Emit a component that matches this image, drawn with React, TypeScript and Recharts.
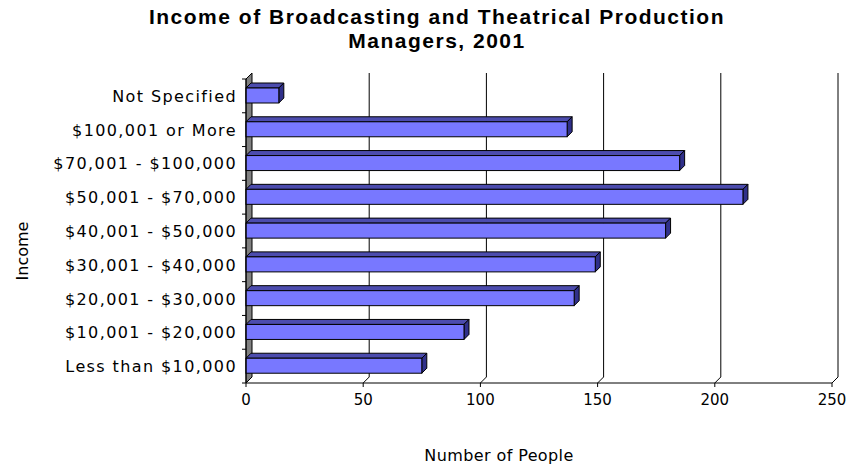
import { BarChart, Bar, XAxis, YAxis, CartesianGrid } from "recharts";

const incomeBrackets = [
  "Not Specified",
  "$100,001 or More",
  "$70,001 - $100,000",
  "$50,001 - $70,000",
  "$40,001 - $50,000",
  "$30,001 - $40,000",
  "$20,001 - $30,000",
  "$10,001 - $20,000",
  "Less than $10,000",
];
const people = [14, 137, 185, 212, 179, 149, 140, 93, 75];
const xTicks = [0, 50, 100, 150, 200, 250];

const data = incomeBrackets.map((name, i) => ({ name, people: people[i] }));

const W = 846;
const H = 466;
const PLOT_TOP = 79;
const PLOT_BOTTOM = 383;
const PLOT_LEFT = 246;
const PLOT_RIGHT = 832;
const BAND = (PLOT_BOTTOM - PLOT_TOP) / incomeBrackets.length;
const DEPTH = 6;
const FONT = "'DejaVu Sans', sans-serif";
const TITLE_FONT = "'Liberation Sans', Arial, sans-serif";

// 3D bar: front face, top face, right side
const Bar3D = (props: any) => {
  const { x, y, width, height } = props;
  const d = 5;
  return (
    <g stroke="#000" strokeWidth={1}>
      <polygon points={`${x},${y} ${x + d},${y - d} ${x + width + d},${y - d} ${x + width},${y}`} fill="#4c4cae" />
      <polygon
        points={`${x + width},${y} ${x + width + d},${y - d} ${x + width + d},${y + height - d} ${x + width},${y + height}`}
        fill="#30308a"
      />
      <rect x={x} y={y} width={width} height={height} fill="#7878ff" />
    </g>
  );
};

// back-wall gridlines with a floor segment; the first one becomes the grey side wall
const GridLine3D = (props: any) => {
  const { x1, y1, y2, index } = props;
  const d = DEPTH;
  if (index === 0) {
    return (
      <polygon
        key={`wall`}
        points={`${x1},${y1} ${x1 + d},${y1 - d} ${x1 + d},${y2 - d} ${x1},${y2}`}
        fill="#808080"
        stroke="#000"
        strokeWidth={1}
      />
    );
  }
  return (
    <polyline
      key={`grid-${index}`}
      points={`${x1},${y2} ${x1 + d},${y2 - d} ${x1 + d},${y1 - d}`}
      fill="none"
      stroke="#000"
      strokeWidth={1}
    />
  );
};

const CategoryTick = (props: any) => {
  const { x, y, payload, index } = props;
  const half = BAND / 2;
  return (
    <g>
      <text x={x - 9} y={y} dy={6} textAnchor="end" fontFamily={FONT} fontSize={16} letterSpacing={1.4} fill="#000">
        {payload.value}
      </text>
      <line x1={x - 4} x2={x} y1={y - half} y2={y - half} stroke="#000" />
      {index === incomeBrackets.length - 1 && <line x1={x - 4} x2={x} y1={y + half} y2={y + half} stroke="#000" />}
    </g>
  );
};

const NumberTick = (props: any) => {
  const { x, y, payload } = props;
  return (
    <text x={x} y={y} dy={13} textAnchor="middle" fontFamily={FONT} fontSize={15} fill="#000">
      {payload.value}
    </text>
  );
};

const XLabel = () => (
  <text x={499} y={461} textAnchor="middle" fontFamily={FONT} fontSize={16} letterSpacing={0.4} fill="#000">
    Number of People
  </text>
);

const YLabel = () => (
  <text
    x={28}
    y={251}
    transform="rotate(-90 28 251)"
    textAnchor="middle"
    fontFamily={FONT}
    fontSize={16}
    fill="#000"
  >
    Income
  </text>
);

export default function App() {
  return (
    <div style={{ position: "absolute", left: 0, top: 0, width: W, height: H, background: "#fff" }}>
      <div
        style={{
          position: "absolute",
          left: 0,
          top: 5,
          width: 874,
          textAlign: "center",
          fontFamily: TITLE_FONT,
          fontWeight: "bold",
          fontSize: 21,
          letterSpacing: 1.5,
          lineHeight: "24px",
          color: "#000",
        }}
      >
        Income of Broadcasting and Theatrical Production
        <br />
        Managers, 2001
      </div>
      <BarChart
        width={W}
        height={H}
        data={data}
        layout="vertical"
        margin={{ top: PLOT_TOP, right: W - PLOT_RIGHT, bottom: 0, left: 0 }}
      >
        <CartesianGrid horizontal={false} vertical={GridLine3D} />
        <XAxis
          type="number"
          domain={[0, 250]}
          ticks={xTicks}
          height={H - PLOT_BOTTOM}
          axisLine={{ stroke: "#000" }}
          tickLine={{ stroke: "#000" }}
          tickSize={4}
          tickMargin={5}
          tick={<NumberTick />}
          label={<XLabel />}
        />
        <YAxis
          type="category"
          dataKey="name"
          width={PLOT_LEFT}
          axisLine={{ stroke: "#000" }}
          tickLine={false}
          tickSize={0}
          tickMargin={0}
          interval={0}
          tick={<CategoryTick />}
          label={<YLabel />}
        />
        <Bar dataKey="people" barSize={15} shape={<Bar3D />} isAnimationActive={false} />
      </BarChart>
    </div>
  );
}
